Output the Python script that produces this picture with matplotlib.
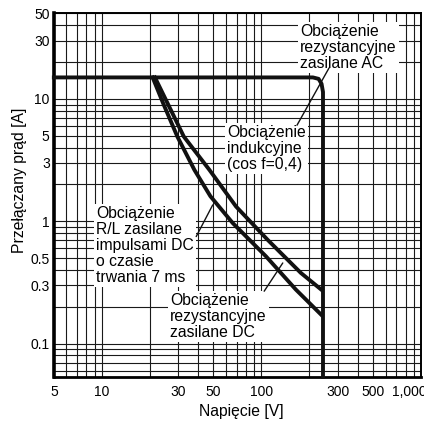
import numpy as np
import matplotlib
matplotlib.use("Agg")
import matplotlib.pyplot as plt
from matplotlib.ticker import LogLocator, NullFormatter
from matplotlib.transforms import ScaledTranslation

plt.rcParams['font.family'] = ['Liberation Sans', 'DejaVu Sans']

# ---- data ----
ac_x = [5, 210, 228, 238, 243, 243]
ac_y = [15, 15, 14.6, 13.3, 11.4, 0.0535]

dc_res_x = [21.5, 25.8, 32.6, 47.2, 69.3, 109, 176.6, 238]
dc_res_y = [15, 9.22, 4.93, 2.63, 1.32, 0.708, 0.378, 0.275]

dc_rl_x = [20.8, 24.2, 29.7, 38, 47.9, 66, 106.7, 164, 238]
dc_rl_y = [15, 9.22, 4.93, 2.63, 1.60, 0.968, 0.517, 0.277, 0.171]

xticks = [5, 10, 30, 50, 100, 300, 500, 1000]
xticklabels = ['5', '10', '30', '50', '100', '300', '500', '1,000']
yticks = [0.1, 0.3, 0.5, 1, 3, 5, 10, 30, 50]
yticklabels = ['0.1', '0.3', '0.5', '1', '3', '5', '10', '30', '50']

lbl_ac = "Obciążenie\nrezystancyjne\nzasilane AC"
lbl_ind = "Obciążenie\nindukcyjne\n(cos f=0,4)"
lbl_rl = "Obciążenie\nR/L zasilane\nimpulsami DC\no czasie\ntrwania 7 ms"
lbl_dc = "Obciążenie\nrezystancyjne\nzasilane DC"

# ---- figure ----
fig = plt.figure(figsize=(4.24, 4.21), dpi=100)
ax = fig.add_axes([0.127, 0.105, 0.866, 0.863])
ax.set_xscale('log')
ax.set_yscale('log')
ax.set_xlim(5, 1000)
ax.set_ylim(0.0535, 50)

ax.xaxis.set_minor_locator(LogLocator(base=10, subs=np.arange(1, 10)))
ax.yaxis.set_minor_locator(LogLocator(base=10, subs=np.arange(1, 10)))
ax.xaxis.set_minor_formatter(NullFormatter())
ax.yaxis.set_minor_formatter(NullFormatter())
ax.set_xticks(xticks, xticklabels)
ax.set_yticks(yticks, yticklabels)
ax.tick_params(which='both', length=0)
ax.tick_params(axis='x', pad=6, labelsize=10)
ax.tick_params(axis='y', pad=3, labelsize=10)
ax.grid(True, which='both', color='#1a1a1a', lw=0.8, zorder=0)
ax.set_axisbelow(True)

for s in ['top', 'right', 'bottom']:
    ax.spines[s].set_linewidth(1.4)
ax.spines['left'].set_linewidth(2.6)
ax.spines['bottom'].set_linewidth(2.0)

lw = 2.8
ax.plot(ac_x, ac_y, color='#111111', lw=lw, solid_joinstyle='round', zorder=4, clip_on=False)
ax.plot(dc_res_x, dc_res_y, color='#111111', lw=lw, solid_joinstyle='round', zorder=4)
ax.plot(dc_rl_x, dc_rl_y, color='#111111', lw=lw, solid_joinstyle='round', zorder=4)

box = dict(facecolor='white', edgecolor='none', pad=1.5)
tk = dict(fontsize=11.3, ha='left', va='center', linespacing=1.08, zorder=3,
          transform=ax.transAxes, bbox=box)
ax.text(0.670, 0.906, lbl_ac, **tk)
ax.text(0.471, 0.629, lbl_ind, **tk)
ax.text(0.116, 0.362, lbl_rl, **tk)
ax.text(0.316, 0.167, lbl_dc, **tk)

ap = dict(arrowstyle='-', color='#111111', lw=1.0, shrinkA=0, shrinkB=0)
ax.annotate('', xy=(265, 17.9), xytext=(167, 6.1), arrowprops=ap, zorder=5)
ax.annotate('', xy=(49.5, 1.36), xytext=(39, 0.75), arrowprops=ap, zorder=5)
ax.annotate('', xy=(136, 0.456), xytext=(104, 0.268), arrowprops=ap, zorder=5)

ax.set_xlabel('Napięcie [V]', fontsize=11.3)
ax.set_ylabel('Przełączany prąd [A]', fontsize=11.3)
ax.xaxis.set_label_coords(0.51, -0.074)
ax.yaxis.set_label_coords(-0.074, 0.541)

for lab in ax.get_xticklabels():
    if lab.get_text() == '1,000':
        lab.set_transform(lab.get_transform() + ScaledTranslation(-0.115, 0, fig.dpi_scale_trans))

fig.savefig('out.png', dpi=100)
